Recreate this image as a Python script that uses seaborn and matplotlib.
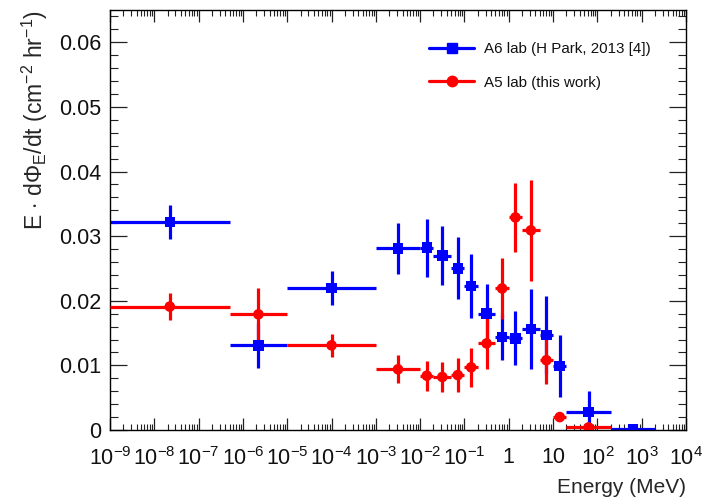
import numpy as np
import pandas as pd
import matplotlib
matplotlib.use('Agg')
import matplotlib.pyplot as plt
import seaborn as sns
from matplotlib.ticker import LogLocator, FuncFormatter, MultipleLocator, NullFormatter
from matplotlib.lines import Line2D

# ── data (energy bins in MeV) ────────────────────────────────────
a6_edges = [1e-9, 5e-7, 1e-5, 1e-3, 1e-2, 2e-2, 5e-2, 0.1, 0.2, 0.5,
            1, 2, 5, 10, 20, 200, 2000]
a6_flux = [0.0322, 0.0131, 0.0220, 0.0281, 0.0282, 0.0270, 0.0250, 0.0223,
           0.0180, 0.0144, 0.0142, 0.0156, 0.0147, 0.0099, 0.0028, 0.0001]
a6_err = [0.0026, 0.0035, 0.0026, 0.0039, 0.0045, 0.0046, 0.0048, 0.0049,
          0.0046, 0.0035, 0.0042, 0.0062, 0.0060, 0.0048, 0.0032, 0.0003]

a5_edges = [1e-9, 5e-7, 1e-5, 1e-3, 1e-2, 2e-2, 5e-2, 0.1, 0.2, 0.5,
            1, 2, 5, 10, 20, 200]
a5_flux = [0.0191, 0.0179, 0.0131, 0.0094, 0.0084, 0.0082, 0.0085, 0.0097,
           0.0134, 0.0219, 0.0329, 0.0309, 0.0108, 0.0020, 0.0004]
a5_err = [0.0021, 0.0040, 0.0018, 0.0022, 0.0023, 0.0023, 0.0026, 0.0030,
          0.0040, 0.0047, 0.0054, 0.0078, 0.0037, 0.0003, 0.0003]

labels = ['A6 lab (H Park, 2013 [4])', 'A5 lab (this work)']
colors = ['#0000ff', '#ff0000']
markers = ['s', 'o']


def to_frame(edges, flux, err, name):
    lo = np.array(edges[:-1])
    hi = np.array(edges[1:])
    c = np.sqrt(lo * hi)
    return pd.DataFrame({'E': c, 'lo': lo, 'hi': hi, 'flux': flux,
                         'err': err, 'source': name})


df = pd.concat([to_frame(a6_edges, a6_flux, a6_err, labels[0]),
                to_frame(a5_edges, a5_flux, a5_err, labels[1])],
               ignore_index=True)

# ── style ─────────────────────────────────────────────────────
sns.set_theme(style='ticks')
plt.rcParams.update({
    'font.family': ['Liberation Sans', 'DejaVu Sans'],
    'mathtext.fontset': 'custom',
    'mathtext.rm': 'Liberation Sans',
    'mathtext.it': 'Liberation Sans:italic',
    'mathtext.bf': 'Liberation Sans:bold',
    'axes.edgecolor': 'black',
    'axes.linewidth': 1.0,
    'text.color': '#111111',
})

fig = plt.figure(figsize=(7.04, 5.04), dpi=100)
ax = fig.add_axes([110 / 704, 1 - 430 / 504, 576 / 704, 420 / 504])

for i, (name, sub) in enumerate(df.groupby('source', sort=False)):
    ax.errorbar(sub['E'], sub['flux'],
                xerr=[sub['E'] - sub['lo'], sub['hi'] - sub['E']],
                yerr=sub['err'], fmt='none', ecolor=colors[i],
                elinewidth=2.3, capsize=0, zorder=2 + i)

sns.scatterplot(data=df, x='E', y='flux', hue='source', style='source',
                palette=dict(zip(labels, colors)),
                markers=dict(zip(labels, markers)),
                s=58, linewidth=0, legend=False, ax=ax, zorder=5)

ax.set_xscale('log')
ax.set_xlim(1e-9, 1e4)
ax.set_ylim(0, 0.065)

ax.xaxis.set_major_locator(LogLocator(base=10, numticks=20))
ax.xaxis.set_minor_locator(LogLocator(base=10, subs=np.arange(2, 10), numticks=200))
ax.xaxis.set_minor_formatter(NullFormatter())


def xfmt(v, pos):
    n = int(round(np.log10(v)))
    if n == 0:
        return '1'
    if n == 1:
        return '10'
    return r'$\mathregular{10^{%d}}$' % n


ax.xaxis.set_major_formatter(FuncFormatter(xfmt))
ax.yaxis.set_major_locator(MultipleLocator(0.01))
ax.yaxis.set_minor_locator(MultipleLocator(0.002))
ax.yaxis.set_major_formatter(FuncFormatter(lambda v, p: '0' if abs(v) < 1e-9 else f'{v:.2f}'))

ax.tick_params(which='both', direction='in', top=True, right=True,
               color='#222222', labelsize=15.5, labelcolor='#111111')
ax.tick_params(axis='x', which='major', length=8.5, width=0.9, pad=12)
ax.tick_params(axis='x', which='minor', length=4.3, width=0.8)
ax.tick_params(axis='y', which='major', length=12, width=0.9, pad=6)
ax.tick_params(axis='y', which='minor', length=6, width=0.8)

ax.set_xlabel('Energy (MeV)', fontsize=15, loc='right')
ax.xaxis.set_label_coords(1.0, -0.115)
ax.set_ylabel(r'E $\cdot$ d$\Phi_{\mathregular{E}}$/dt (cm$^{-2}$ hr$^{-1}$)',
              fontsize=16.5, loc='top')
ax.yaxis.set_label_coords(-0.104, 1.0)

handles = [Line2D([], [], color=c, marker=m, lw=2.3, ms=7.5)
           for c, m in zip(colors, markers)]
ax.legend(handles, labels, loc='upper left', frameon=False, fontsize=10.9,
          bbox_to_anchor=(429 / 704, 1 - 42 / 504), bbox_transform=fig.transFigure,
          borderpad=0, borderaxespad=0, handlelength=3.0, handletextpad=0.6,
          labelspacing=1.3)

fig.savefig('out.png', dpi=100, facecolor='white')
